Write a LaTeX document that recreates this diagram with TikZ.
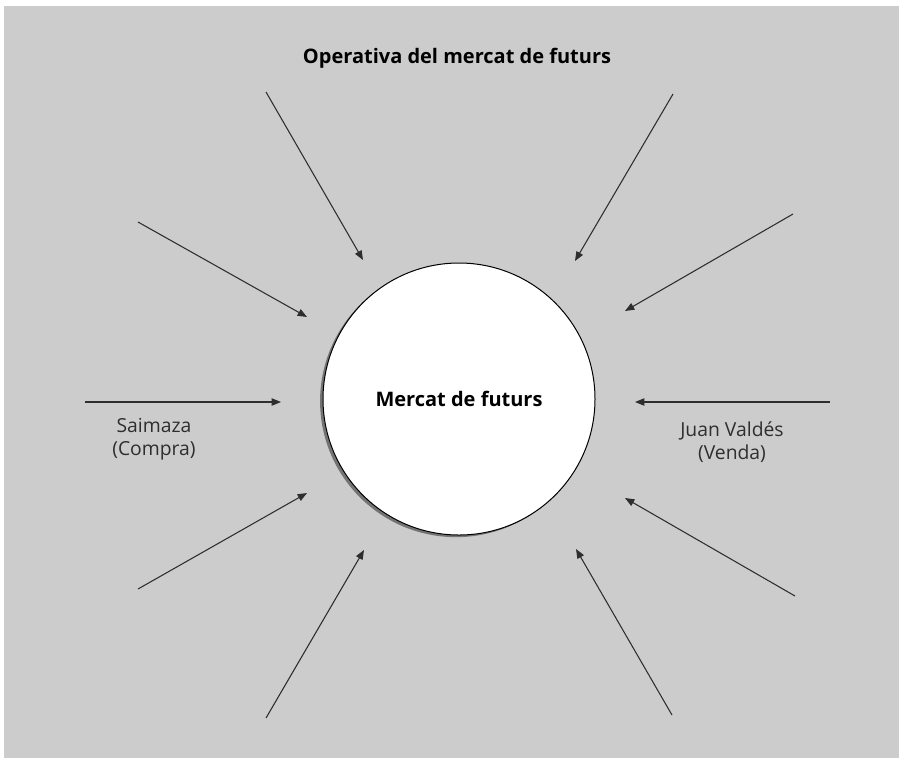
\documentclass[tikz,border=0pt]{standalone}
\usepackage{fontspec}
\setmainfont{Open Sans}
\usetikzlibrary{arrows.meta,shadows}
\definecolor{fons}{HTML}{CCCCCC}
\definecolor{linia}{HTML}{2E2E2E}

\tikzset{
  fletxa/.style={draw=linia,line width=0.8pt,-{Triangle[length=7pt,width=5.5pt]}},
  etiqueta/.style={text=linia,font=\fontsize{14.5}{17}\selectfont,align=center,inner sep=0pt},
}

\begin{document}
\begin{tikzpicture}[x=0.75pt,y=-0.75pt]
\useasboundingbox (0,0) rectangle (899,758);
\fill[white] (0,0) rectangle (899,758);
\fill[fons] (4,6) rectangle (899,758);
\node[font=\bfseries\fontsize{15}{18}\selectfont] (titol) at (457,58) {Operativa del mercat de futurs};
\node[circle,draw,fill=white,line width=0.75pt,minimum size=204pt,inner sep=0pt,
      drop shadow={shadow xshift=-2.2pt,shadow yshift=-1.6pt,fill=black!55,opacity=1},
      font=\bfseries\fontsize{15}{18}\selectfont] (mercat) at (459,399) {Mercat de futurs};
% fletxes cap al mercat
\foreach \n/\sx/\sy/\tx/\ty in {a/266/92/363/260, b/673/94/575/261,
    c/138/222/307/317, d/793/214/625/311,
    e/85/402/281/402, f/830/402/635/402,
    g/138/589/307/493, h/795/596/625/498,
    i/266/718/364/550, j/672/715/576/549}
  {
  \coordinate (s\n) at (\sx,\sy);
  \coordinate (t\n) at (\tx,\ty);
  \draw[fletxa] (s\n) -- (t\n);
  }
\node[etiqueta] (compra) at (154,439) {Saimaza\\(Compra)};
\node[etiqueta] (venda) at (732,442) {Juan Valdés\\(Venda)};
\end{tikzpicture}
\end{document}
